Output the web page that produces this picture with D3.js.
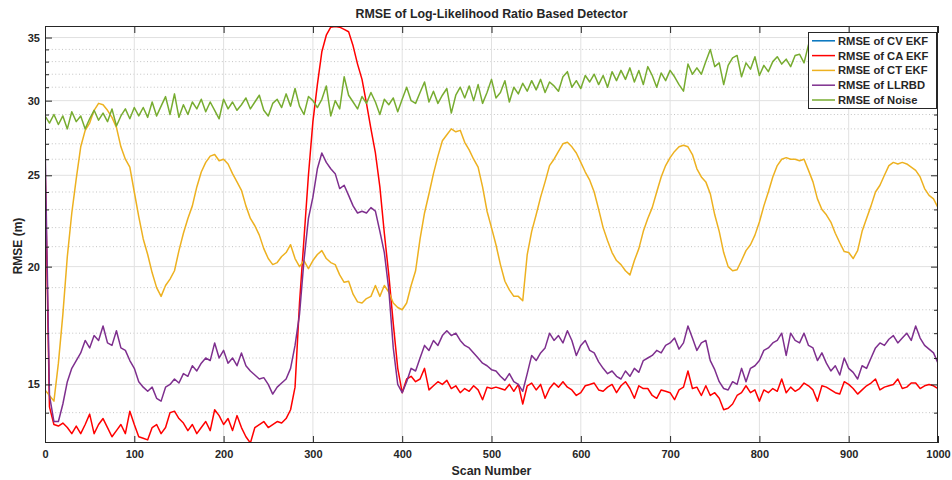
<!DOCTYPE html>
<html>
<head>
<meta charset="utf-8">
<script src="https://cdn.jsdelivr.net/npm/d3@7"></script>
<style>
  body { margin: 0; background: #fff; }
  svg text { font-family: "Liberation Sans", Arial, Helvetica, sans-serif; font-weight: bold; fill: #262626; }
</style>
</head>
<body>
<svg id="chart" width="952" height="480"></svg>
<script>
// Scan numbers sampled every 5 scans, 0..1000
const scanNumbers = d3.range(0, 1001, 5);

// RMSE of CV EKF: stays outside the plotted range, only shown in the legend
const cvEkf = [];

// RMSE of CA EKF (m)
const caEkf = [
  26.0,14.2,13.6,13.55,13.65,13.5,13.3,13.55,13.3,13.6,
  13.95,13.3,13.6,13.8,13.5,13.2,13.4,13.6,13.3,14.05,
  13.6,13.2,13.15,13.1,13.5,13.6,13.3,13.5,14.0,14.05,
  13.8,13.65,13.4,13.6,13.3,13.5,13.7,13.4,14.1,13.9,
  13.6,13.8,13.4,13.9,13.5,13.2,13.0,13.5,13.6,13.7,
  13.5,13.6,13.7,13.65,13.8,14.1,14.9,18.3,21.4,25.0,
  28.5,31.2,33.8,35.2,35.9,35.95,35.9,35.7,35.5,34.3,
  32.8,31.6,29.8,28.0,26.4,24.3,21.7,19.6,17.4,15.6,
  14.7,15.2,15.3,15.1,15.2,15.6,14.8,14.95,15.1,15.0,
  15.15,14.85,14.95,14.7,14.85,14.75,14.95,14.8,14.45,14.9,
  14.85,14.9,14.85,14.8,15.0,14.75,15.0,14.3,14.95,15.05,
  14.8,15.0,14.5,14.85,15.05,14.9,15.1,14.9,14.8,14.6,
  14.7,14.95,15.0,15.05,14.8,14.75,14.9,15.0,14.7,14.95,
  15.1,14.85,14.5,14.95,14.85,14.85,14.6,14.5,14.8,14.75,
  14.7,14.45,14.8,14.9,15.5,14.85,14.9,14.6,14.95,14.6,
  14.7,14.5,14.1,14.15,14.3,14.6,14.7,14.95,14.7,14.8,
  14.4,14.8,14.7,14.85,14.75,15.2,14.7,14.9,14.75,14.85,
  15.05,14.95,14.8,14.4,14.95,14.9,14.8,14.7,14.65,15.1,
  15.0,14.85,14.65,14.8,14.95,15.05,15.2,14.8,14.9,14.95,
  15.0,15.2,14.85,14.9,15.05,15.05,14.85,14.95,15.0,14.95,
  14.85
];

// RMSE of CT EKF (m)
const ctEkf = [
  14.8,14.6,14.4,15.8,17.8,20.5,22.8,24.8,26.8,27.9,
  28.4,29.3,29.8,29.7,29.3,28.8,28.1,26.8,26.0,25.5,
  24.0,22.6,21.4,20.6,19.7,19.0,18.6,19.1,19.4,19.8,
  20.8,21.7,22.5,23.2,24.3,25.2,25.8,26.2,26.3,25.9,
  26.0,25.7,25.1,24.6,24.1,23.2,22.5,22.1,21.6,20.9,
  20.4,20.1,20.2,20.5,20.7,21.1,20.4,20.0,20.3,19.9,
  20.3,20.6,20.8,20.4,20.2,20.1,19.6,19.25,19.3,18.7,
  18.35,18.3,18.5,18.6,19.1,18.6,19.1,18.8,18.3,18.1,
  18.0,18.3,19.1,19.8,21.4,22.8,23.9,25.1,26.2,27.2,
  27.6,28.0,27.8,27.9,27.1,26.6,26.0,25.5,24.3,22.9,
  22.0,21.1,20.1,19.3,18.9,18.6,18.6,18.4,20.6,21.8,
  22.7,23.7,24.6,25.6,26.0,26.5,27.0,27.1,26.8,26.4,
  25.8,25.2,24.7,24.0,23.0,22.0,21.3,20.7,20.3,20.1,
  19.8,19.6,20.3,20.9,21.8,22.5,23.1,24.0,24.9,25.6,
  26.1,26.5,26.8,26.9,26.8,26.3,25.4,24.9,24.6,23.9,
  22.7,21.8,20.7,20.0,19.8,19.85,20.3,20.8,21.1,21.6,
  22.3,23.2,24.0,24.9,25.6,26.0,26.1,26.0,26.0,25.9,
  26.0,25.3,24.6,23.6,23.0,22.7,22.3,21.7,21.2,20.75,
  20.7,20.4,20.8,21.8,22.5,23.2,24.0,24.4,25.0,25.6,
  25.8,25.7,25.8,25.7,25.5,25.3,24.9,24.2,23.8,23.6,
  23.1
];

// RMSE of LLRBD (m)
const llrbd = [
  27.3,14.6,13.7,13.7,14.3,15.1,15.6,15.9,16.2,16.7,
  16.4,16.9,16.7,17.3,16.6,16.5,17.1,16.4,16.3,15.9,
  15.6,15.1,14.9,14.75,14.9,14.5,14.4,14.9,15.0,15.2,
  15.05,15.4,15.3,15.7,15.5,15.8,16.0,15.9,16.6,16.0,
  16.3,15.8,16.0,15.7,16.2,15.7,15.5,15.35,15.2,15.25,
  15.0,14.65,14.9,15.05,15.2,15.6,16.5,17.8,20.3,22.5,
  23.7,25.4,26.4,25.8,25.4,25.1,24.2,24.4,23.8,23.2,
  22.8,22.9,22.8,23.1,22.9,21.8,20.7,18.9,16.4,15.0,
  14.7,15.1,15.6,15.5,16.0,16.5,16.3,16.7,16.5,16.9,
  17.1,16.9,17.0,16.7,16.5,16.4,16.2,16.0,15.8,15.7,
  15.55,15.5,15.3,15.15,15.4,15.1,15.0,14.75,15.4,16.1,
  15.9,16.2,16.4,17.0,16.7,16.9,16.6,17.1,16.7,16.1,
  16.5,16.7,16.3,16.2,15.85,15.6,15.4,15.5,15.3,15.2,
  15.5,15.3,15.6,15.45,15.9,16.0,16.1,16.3,16.2,16.5,
  16.6,16.8,16.35,16.6,17.3,16.8,16.3,16.6,16.7,15.9,
  15.55,15.1,14.85,14.8,15.1,15.0,15.6,15.1,15.6,15.7,
  15.9,16.3,16.4,16.6,16.7,17.0,16.1,17.0,16.7,16.6,
  17.0,16.5,16.4,15.9,16.2,15.8,15.5,15.7,15.35,16.0,
  15.6,15.45,15.2,15.7,15.6,16.0,16.4,16.6,16.5,16.75,
  16.9,16.6,16.8,17.0,16.7,17.3,16.8,16.5,16.35,16.2,
  15.8
];

// RMSE of the raw measurement noise (m)
const noise = [
  28.9,28.4,29.0,28.3,28.9,28.0,29.2,28.5,28.9,28.0,
  28.7,29.3,28.6,29.1,28.5,29.4,28.2,28.9,29.4,28.7,
  29.5,28.9,29.5,28.8,29.9,28.9,29.6,30.3,29.0,30.5,
  28.8,29.7,29.0,29.9,29.4,30.1,29.2,29.9,29.3,28.7,
  30.1,29.4,29.9,29.3,29.7,30.2,29.4,29.9,30.4,29.3,
  28.9,29.8,30.1,29.5,30.5,29.6,30.9,29.6,29.0,30.3,
  30.0,29.5,30.1,31.1,28.9,30.0,29.4,31.8,30.4,29.9,
  29.4,30.3,29.8,30.6,29.9,29.0,30.1,29.7,30.2,29.2,
  30.1,31.0,30.0,29.8,30.6,31.4,29.9,30.7,29.8,30.4,
  30.9,29.1,30.4,31.0,30.2,31.1,30.0,31.2,29.8,30.6,
  31.6,30.2,30.6,31.5,29.9,31.0,30.5,31.3,30.7,31.5,
  30.8,31.6,30.6,31.4,31.1,30.7,31.8,32.2,31.0,31.5,
  30.9,31.9,31.4,32.0,31.2,31.9,31.0,32.2,31.5,32.3,
  31.6,32.5,31.4,32.3,31.2,32.6,31.9,31.0,32.1,31.5,
  32.3,31.8,31.2,30.7,32.8,32.0,32.5,32.0,33.0,34.0,
  32.6,32.9,31.2,32.7,33.3,33.5,31.8,32.9,32.4,33.4,
  31.9,32.7,32.2,33.0,33.4,32.8,33.2,32.6,33.5,33.6,
  32.9,34.4,33.2,33.8,33.1,34.0,33.4,33.9,33.2,34.1,
  33.5,33.9,33.3,34.2,33.6,34.0,33.4,34.3,33.7,34.1,
  33.6,34.4,33.8,34.2,33.7,34.5,33.9,34.3,34.0,34.8,
  34.5
];

const seriesLabels = ["RMSE of CV EKF", "RMSE of CA EKF", "RMSE of CT EKF", "RMSE of LLRBD", "RMSE of Noise"];
const seriesColors = ["#0072BD", "#FF0000", "#EDB120", "#7E2F8E", "#77AC30"];
const seriesValues = [cvEkf, caEkf, ctEkf, llrbd, noise];

const xTicks = [0, 100, 200, 300, 400, 500, 600, 700, 800, 900, 1000];
const yTicks = [15, 20, 25, 30, 35];
const yMinorTicks = [14, 16, 17, 18, 19, 21, 22, 23, 24, 26, 27, 28, 29, 31, 32, 33, 34];

const titleText = "RMSE of Log-Likelihood Ratio Based Detector";
const xLabelText = "Scan Number";
const yLabelText = "RMSE (m)";

// ---- layout ----
const plot = { left: 45, right: 938, top: 26, bottom: 443 };
const axisColor = "#262626";

const svg = d3.select("#chart");

const x = d3.scaleLinear().domain([0, 1000]).range([plot.left, plot.right]);
const y = d3.scaleLog().domain([13, 36]).range([plot.bottom, plot.top]);

svg.append("defs").append("clipPath").attr("id", "plot-clip")
  .append("rect")
  .attr("x", plot.left).attr("y", plot.top)
  .attr("width", plot.right - plot.left).attr("height", plot.bottom - plot.top);

// grid: minor dotted (log y), major solid
const grid = svg.append("g");
grid.selectAll("line.minor").data(yMinorTicks).join("line")
  .attr("class", "minor")
  .attr("x1", plot.left).attr("x2", plot.right)
  .attr("y1", d => y(d)).attr("y2", d => y(d))
  .attr("stroke", "#c4c4c4").attr("stroke-width", 1)
  .attr("stroke-dasharray", "1,2.4");
grid.selectAll("line.hmajor").data(yTicks).join("line")
  .attr("class", "hmajor")
  .attr("x1", plot.left).attr("x2", plot.right)
  .attr("y1", d => y(d)).attr("y2", d => y(d))
  .attr("stroke", "#e1e1e1").attr("stroke-width", 1);
grid.selectAll("line.vmajor").data(xTicks.slice(1, -1)).join("line")
  .attr("class", "vmajor")
  .attr("x1", d => x(d)).attr("x2", d => x(d))
  .attr("y1", plot.top).attr("y2", plot.bottom)
  .attr("stroke", "#e1e1e1").attr("stroke-width", 1);

// data lines
const line = d3.line()
  .x((d, i) => x(scanNumbers[i]))
  .y(d => y(d));

svg.append("g").attr("clip-path", "url(#plot-clip)")
  .selectAll("path").data(seriesValues).join("path")
  .attr("d", d => d.length ? line(d) : null)
  .attr("fill", "none")
  .attr("stroke", (d, i) => seriesColors[i])
  .attr("stroke-width", 1.5)
  .attr("stroke-linejoin", "round");

// axes with inward ticks on all four sides
function styleAxis(g) {
  g.select(".domain").remove();
  g.selectAll(".tick line").attr("stroke", axisColor);
  g.selectAll(".tick text").attr("fill", axisColor).style("font-size", "11px").style("font-weight", "bold");
}

svg.append("g").attr("transform", `translate(0,${plot.bottom})`)
  .call(d3.axisBottom(x).tickValues(xTicks).tickSize(-7).tickPadding(7).tickFormat(d3.format("d")))
  .call(styleAxis);
svg.append("g").attr("transform", `translate(0,${plot.top})`)
  .call(d3.axisTop(x).tickValues(xTicks).tickSize(-7).tickFormat(""))
  .call(styleAxis);
svg.append("g").attr("transform", `translate(${plot.left},0)`)
  .call(d3.axisLeft(y).tickValues(yTicks).tickSize(-7).tickPadding(5).tickFormat(d3.format("d")))
  .call(styleAxis);
svg.append("g").attr("transform", `translate(${plot.left},0)`)
  .call(d3.axisLeft(y).tickValues(yMinorTicks).tickSize(-4).tickFormat(""))
  .call(styleAxis);
svg.append("g").attr("transform", `translate(${plot.right},0)`)
  .call(d3.axisRight(y).tickValues(yTicks).tickSize(-7).tickFormat(""))
  .call(styleAxis);
svg.append("g").attr("transform", `translate(${plot.right},0)`)
  .call(d3.axisRight(y).tickValues(yMinorTicks).tickSize(-4).tickFormat(""))
  .call(styleAxis);

// axes box
svg.append("rect")
  .attr("x", plot.left + 0.5).attr("y", plot.top + 0.5)
  .attr("width", plot.right - plot.left - 1).attr("height", plot.bottom - plot.top - 1)
  .attr("fill", "none").attr("stroke", axisColor).attr("stroke-width", 1);

// title and axis labels
svg.append("text")
  .attr("x", (plot.left + plot.right) / 2).attr("y", 18)
  .attr("text-anchor", "middle").style("font-size", "12.4px")
  .text(titleText);
svg.append("text")
  .attr("x", (plot.left + plot.right) / 2).attr("y", 475)
  .attr("text-anchor", "middle").style("font-size", "12.4px")
  .text(xLabelText);
svg.append("text")
  .attr("transform", "translate(22,246) rotate(-90)")
  .attr("text-anchor", "middle").style("font-size", "12px")
  .text(yLabelText);

// legend
const legend = svg.append("g");
legend.append("rect")
  .attr("x", 808.5).attr("y", 32.5).attr("width", 128).attr("height", 76)
  .attr("fill", "#fff").attr("stroke", axisColor).attr("stroke-width", 1);
const items = legend.selectAll("g.item").data(seriesLabels).join("g")
  .attr("class", "item")
  .attr("transform", (d, i) => `translate(0,${40.8 + i * 14.8})`);
items.append("line")
  .attr("x1", 812).attr("x2", 835).attr("y1", 0).attr("y2", 0)
  .attr("stroke", (d, i) => seriesColors[i]).attr("stroke-width", 1.5);
items.append("text")
  .attr("x", 838).attr("y", 0).attr("dy", "0.36em")
  .style("font-size", "11.2px")
  .text(d => d);
</script>
</body>
</html>
